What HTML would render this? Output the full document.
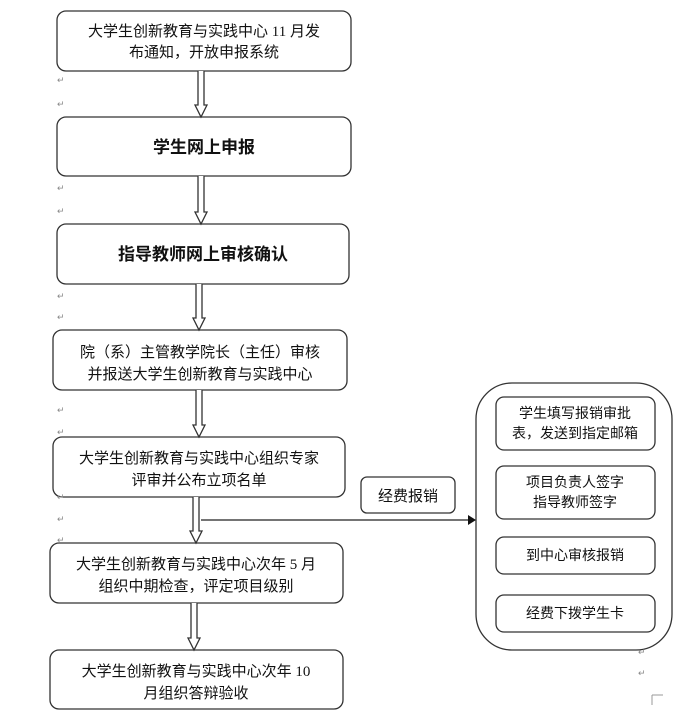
<!DOCTYPE html>
<html><head><meta charset="utf-8"><style>
body{margin:0;background:#fff;}
svg{display:block;font-family:"Liberation Serif","Noto Sans CJK SC",sans-serif;}
.t{font-size:15px;fill:#111;}
.b{font-size:17px;font-weight:bold;fill:#111;}
.r{font-size:9px;fill:#888;}
</style></head><body>
<svg width="700" height="719" viewBox="0 0 700 719" xmlns="http://www.w3.org/2000/svg">
<g fill="#fff" stroke="#333" stroke-width="1.3">
<rect x="57" y="11" width="294" height="60" rx="9"/>
<rect x="57" y="117" width="294" height="59" rx="9"/>
<rect x="57" y="224" width="292" height="60" rx="9"/>
<rect x="53" y="330" width="294" height="60" rx="9"/>
<rect x="53" y="437" width="292" height="60" rx="9"/>
<rect x="50" y="543" width="293" height="60" rx="9"/>
<rect x="50" y="650" width="293" height="59" rx="9"/>
<rect x="361" y="477" width="94" height="36" rx="6"/>
<rect x="476" y="383" width="196" height="267" rx="36"/>
<rect x="496" y="397" width="159" height="53" rx="8"/>
<rect x="496" y="466" width="159" height="53" rx="8"/>
<rect x="496" y="537" width="159" height="37" rx="8"/>
<rect x="496" y="595" width="159" height="37" rx="8"/>
<path d="M198 71V105H195L201 117L207 105H204V71"/>
<path d="M198 176V212H195L201 224L207 212H204V176"/>
<path d="M196 284V318H193L199 330L205 318H202V284"/>
<path d="M196 390V425H193L199 437L205 425H202V390"/>
<path d="M193 497V531H190L196 543L202 531H199V497"/>
<path d="M191 603V638H188L194 650L200 638H197V603"/>
</g>
<line x1="201" y1="520" x2="468" y2="520" stroke="#222" stroke-width="1.2"/>
<polygon points="468,515 476,520 468,525" fill="#111"/>
<path d="M652 695H663M652 695V705" stroke="#999" fill="none"/>
<g class="t" text-anchor="middle">
<text x="204" y="36">大学生创新教育与实践中心 11 月发</text>
<text x="204" y="57">布通知，开放申报系统</text>
<text x="200" y="357">院（系）主管教学院长（主任）审核</text>
<text x="200" y="379">并报送大学生创新教育与实践中心</text>
<text x="199" y="463">大学生创新教育与实践中心组织专家</text>
<text x="199" y="485">评审并公布立项名单</text>
<text x="196" y="569">大学生创新教育与实践中心次年 5 月</text>
<text x="196" y="591">组织中期检查，评定项目级别</text>
<text x="196" y="676">大学生创新教育与实践中心次年 10</text>
<text x="196" y="698">月组织答辩验收</text>
<text x="408" y="501">经费报销</text>
<text x="575" y="418" style="font-size:14px">学生填写报销审批</text>
<text x="575" y="438" style="font-size:14px">表，发送到指定邮箱</text>
<text x="575" y="487" style="font-size:14px">项目负责人签字</text>
<text x="575" y="507" style="font-size:14px">指导教师签字</text>
<text x="575" y="560" style="font-size:14px">到中心审核报销</text>
<text x="575" y="618" style="font-size:14px">经费下拨学生卡</text>
</g>
<g class="b" text-anchor="middle">
<text x="204" y="153">学生网上申报</text>
<text x="203" y="260">指导教师网上审核确认</text>
</g>
<g class="r">
<text x="57" y="83">↵</text><text x="57" y="107">↵</text>
<text x="57" y="191">↵</text><text x="57" y="214">↵</text>
<text x="57" y="299">↵</text><text x="57" y="320">↵</text>
<text x="57" y="413">↵</text><text x="57" y="435">↵</text>
<text x="57" y="500">↵</text><text x="57" y="522">↵</text><text x="57" y="543">↵</text>
<text x="638" y="655">↵</text><text x="638" y="676">↵</text>
</g>
</svg>
</body></html>
